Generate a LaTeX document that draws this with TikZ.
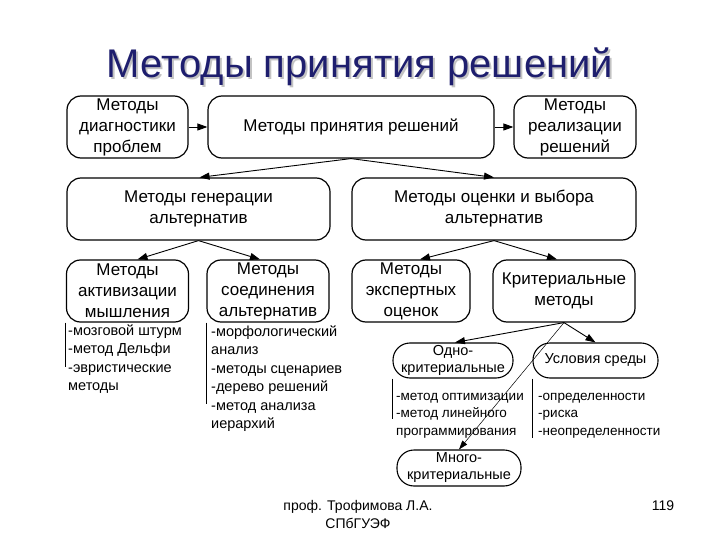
\documentclass[tikz,border=0pt]{standalone}
\usepackage{fontspec}
\setmainfont{Liberation Sans}
\usetikzlibrary{arrows.meta,calc}
\definecolor{titlecol}{RGB}{30,30,110}
\definecolor{shadowcol}{RGB}{195,195,195}
\begin{document}
\begin{tikzpicture}[x=1pt,y=-1pt,
  box/.style={draw, line width=1.2pt, rounded corners=14pt, align=center, inner sep=0pt, font=\fontsize{17}{21}\selectfont},
  pill/.style={draw, line width=1.1pt, rounded corners=17pt, align=center, inner sep=0pt, font=\fontsize{14.5}{17}\selectfont},
  arr/.style={line width=0.9pt, -{Triangle[length=10pt,width=7pt]}},
  thinarr/.style={line width=0.5pt, -{Triangle[length=9pt,width=6pt]}},
  blist/.style={anchor=north west, align=left, inner sep=0pt, font=\fontsize{14.5}{18.5}\selectfont},
  slist/.style={anchor=north west, align=left, inner sep=0pt, font=\fontsize{13.5}{17.5}\selectfont},
  vline/.style={line width=0.9pt},
  foot/.style={inner sep=0pt, align=center, font=\fontsize{14}{18}\selectfont}]
\useasboundingbox[fill=white] (0,0) rectangle (720,540);

% title with shadow
\node[font=\fontsize{40}{44}\selectfont, inner sep=0pt] (title) at (360,68)
  {\rlap{\hspace{2pt}\raisebox{-2pt}{\textcolor{shadowcol}{Методы принятия решений}}}\textcolor{titlecol}{Методы принятия решений}};

% top row
\node[box, minimum width=121pt, minimum height=62pt] (b1) at (127.5,127) {Методы\\диагностики\\проблем};
\node[box, minimum width=286pt, minimum height=62pt] (b2) at (351,127) {Методы принятия решений};
\node[box, minimum width=122pt, minimum height=62pt] (b3) at (575,127) {Методы\\реализации\\решений};

% second row
\node[box, minimum width=263pt, minimum height=62pt] (b4) at (198.5,209) {Методы генерации\\альтернатив};
\node[box, minimum width=284pt, minimum height=62pt] (b5) at (494,209) {Методы оценки и выбора\\альтернатив};

% third row
\node[box, minimum width=122pt, minimum height=62pt] (b6) at (127.5,291) {Методы\\активизации\\мышления};
\node[box, minimum width=122pt, minimum height=62pt] (b7) at (268,291) {Методы\\соединения\\альтернатив};
\node[box, minimum width=118pt, minimum height=62pt] (b8) at (411,291) {Методы\\экспертных\\оценок};
\node[box, minimum width=142pt, minimum height=62pt] (b9) at (564,291) {Критериальные\\методы};

% pills
\node[pill, minimum width=120pt, minimum height=35pt] (b10) at (453,360.5) {Одно-\\критериальные};
\node[pill, minimum width=125pt, minimum height=35pt] (b11) at (595.5,360.5) {Условия среды};
\node[pill, minimum width=124pt, minimum height=36pt] (b12) at (459,468) {Много-\\критериальные};

% arrows
\draw[arr] (b1.east) -- (b2.west);
\draw[arr] (b2.east) -- (b3.west);
\draw[arr] (b2.south) -- ([xshift=1pt]b4.north);
\draw[arr] (b2.south) -- (b5.north);
\draw[arr] (b4.south) -- ([xshift=10pt]b6.north);
\draw[arr] (b4.south) -- ([xshift=-8pt]b7.north);
\draw[arr] (b5.south) -- ([xshift=9pt]b8.north);
\draw[arr] (b5.south) -- ([xshift=-7pt]b9.north);
\draw[arr] (b9.south) -- ([xshift=2pt]b10.north);
\draw[arr] (b9.south) -- (b11.north);
\draw[thinarr] (b9.south) -- (b12.north);

% lists
\draw[vline] (b6.south west) -- ++(0,44);
\node[blist] (l6) at (68,322) {\strut-мозговой штурм\\-метод Дельфи\\-эвристические\\методы};
\draw[vline] (b7.south west) -- ++(0,81);
\node[blist] (l7) at (211,323) {\strut-морфологический\\анализ\\-методы сценариев\\-дерево решений\\-метод анализа\\иерархий};
\draw[vline] (b10.south west) -- ++(0,40);
\node[slist] (l10) at (396,388) {\strut-метод оптимизации\\-метод линейного\\программирования};
\draw[vline] (b11.south west) -- ++(0,59);
\node[slist] (l11) at (538,388) {\strut-определенности\\-риска\\-неопределенности};

% footer
\node[foot] (f1) at (358,514) {проф. Трофимова Л.А.\\СПбГУЭФ};
\node[foot] (f2) at (663,506) {119};
\end{tikzpicture}
\end{document}
